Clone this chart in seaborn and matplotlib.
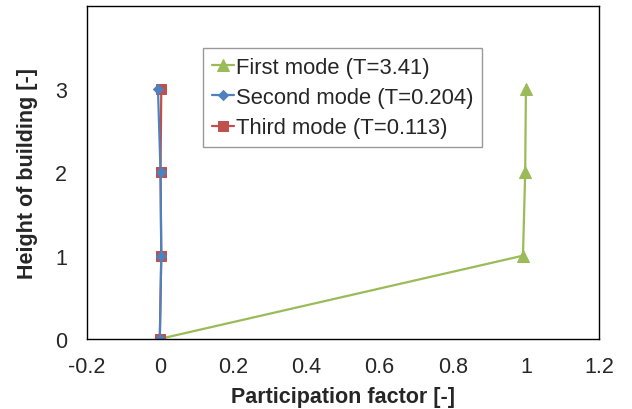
import matplotlib
matplotlib.use("Agg")
import matplotlib.pyplot as plt
import seaborn as sns
import pandas as pd

heights = [0, 1, 2, 3]
first_mode = [0.0, 0.992, 0.998, 1.0]
second_mode = [0.0, 0.004, 0.002, -0.005]
third_mode = [0.0, 0.004, 0.002, 0.004]
labels = ["First mode (T=3.41)", "Second mode (T=0.204)", "Third mode (T=0.113)"]
xticks = [-0.2, 0, 0.2, 0.4, 0.6, 0.8, 1, 1.2]
xtick_labels = ["-0.2", "0", "0.2", "0.4", "0.6", "0.8", "1", "1.2"]
yticks = [0, 1, 2, 3]

sns.set_style("white")
plt.rcParams['font.family'] = ['Liberation Sans', 'DejaVu Sans']

fig = plt.figure(figsize=(6.32, 4.10), dpi=100)
ax = fig.add_axes([0.137, 0.171, 0.811, 0.812])

colors = {"first": "#9BBB59", "second": "#4F81BD", "third": "#C0504D"}

df1 = pd.DataFrame({"x": first_mode, "y": heights})
df2 = pd.DataFrame({"x": second_mode, "y": heights})
df3 = pd.DataFrame({"x": third_mode, "y": heights})

sns.lineplot(data=df1, x="x", y="y", sort=False, estimator=None, ax=ax,
             color=colors["first"], marker="^", markersize=8, linewidth=1.6,
             markeredgecolor=colors["first"], label=labels[0])
sns.lineplot(data=df3, x="x", y="y", sort=False, estimator=None, ax=ax,
             color=colors["third"], marker="s", markersize=7, linewidth=1.6,
             markeredgecolor=colors["third"], label=labels[2])
sns.lineplot(data=df2, x="x", y="y", sort=False, estimator=None, ax=ax,
             color=colors["second"], marker="D", markersize=5, linewidth=1.6,
             markeredgecolor=colors["second"], label=labels[1])

ax.set_xlim(-0.2, 1.2)
ax.set_ylim(0, 4)
ax.set_xticks(xticks)
ax.set_xticklabels(xtick_labels)
ax.set_yticks(yticks)
ax.tick_params(axis="both", direction="in", length=5, width=1, color="black",
               labelsize=15.5)
ax.tick_params(axis="x", pad=12)
ax.tick_params(axis="y", pad=14)
for s in ax.spines.values():
    s.set_color("black")
    s.set_linewidth(1.0)
    s.set_visible(True)

ax.set_xlabel("Participation factor [-]", fontsize=15.5, fontweight="bold", labelpad=7)
ax.set_ylabel("Height of building [-]", fontsize=15.5, fontweight="bold", labelpad=12)

handles, lbls = ax.get_legend_handles_labels()
order = [lbls.index(l) for l in labels]
leg = ax.legend([handles[i] for i in order], [lbls[i] for i in order],
                loc="upper left", bbox_to_anchor=(203 / 632, 1 - 49 / 410),
                bbox_transform=fig.transFigure, fontsize=15.8, frameon=True,
                fancybox=False, edgecolor="#808080", handlelength=1.0,
                handletextpad=0.1, borderpad=0.4, labelspacing=0.42,
                borderaxespad=0)
leg.get_frame().set_linewidth(1.0)

fig.savefig("out.png", dpi=100, facecolor="white")
